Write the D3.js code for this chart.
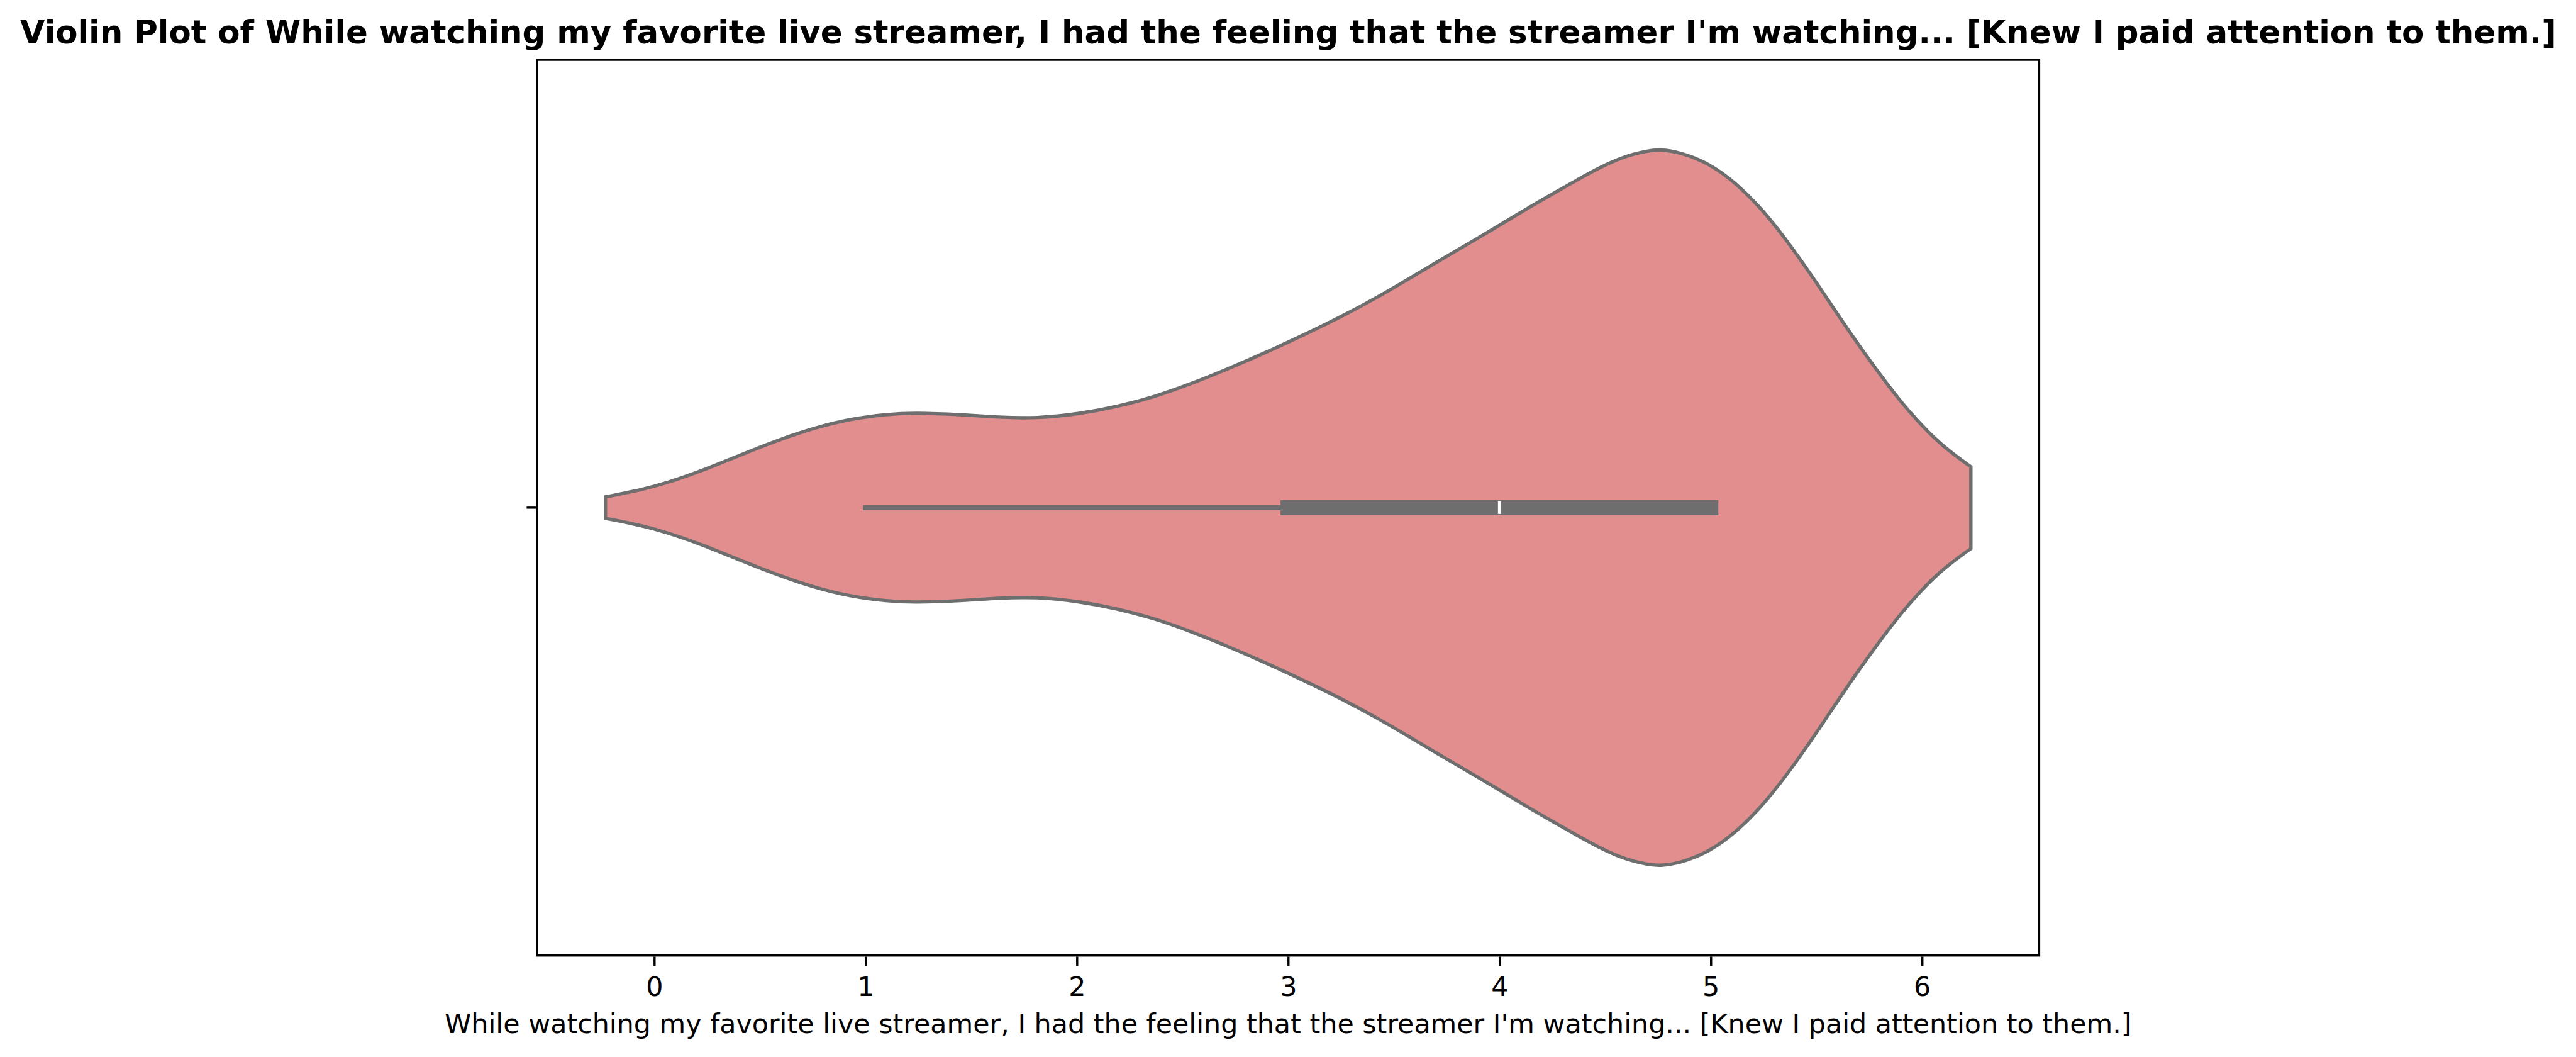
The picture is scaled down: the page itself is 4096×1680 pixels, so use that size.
<!DOCTYPE html>
<html>
<head>
<meta charset="utf-8">
<script src="https://cdn.jsdelivr.net/npm/d3@7"></script>
<style>
  html, body { margin: 0; padding: 0; background: #ffffff; }
  svg { display: block; }
</style>
</head>
<body>
<svg id="chart" width="4096" height="1680"></svg>
<script>
// ---------------- data ----------------
const titleText = "Violin Plot of While watching my favorite live streamer, I had the feeling that the streamer I'm watching... [Knew I paid attention to them.]";
const xLabelText = "While watching my favorite live streamer, I had the feeling that the streamer I'm watching... [Knew I paid attention to them.]";
const categories = [""];
const xTicks = [0, 1, 2, 3, 4, 5, 6];
// violin outline: value positions and relative half-widths (1 = widest point)
const densityX = [-0.231, -0.089, 0.051, 0.227, 0.403, 0.578, 0.753, 0.929, 1.105, 1.228, 1.456, 1.631, 1.807, 2.016, 2.192, 2.367, 2.543, 2.718, 2.894, 3.07, 3.245, 3.42, 3.597, 3.783, 3.900, 4.017, 4.134, 4.252, 4.368, 4.485, 4.603, 4.70, 4.76, 4.854, 4.99, 5.127, 5.263, 5.40, 5.536, 5.672, 5.809, 5.90, 6.00, 6.10, 6.231];
const densityW = [0.030, 0.046, 0.067, 0.103, 0.146, 0.187, 0.222, 0.248, 0.261, 0.265, 0.260, 0.252, 0.249, 0.262, 0.282, 0.309, 0.346, 0.388, 0.433, 0.481, 0.531, 0.586, 0.648, 0.713, 0.753, 0.794, 0.836, 0.876, 0.915, 0.953, 0.983, 0.996, 1.000, 0.992, 0.962, 0.903, 0.820, 0.714, 0.597, 0.476, 0.365, 0.295, 0.228, 0.170, 0.114];
// inner box: [lower whisker, Q1, median, Q3, upper whisker]
const boxStats = [1, 3, 4, 5, 5];

// ---------------- layout ----------------
const S = 4096 / 7975;               // scale from reference
const pt = 600 / 72 * S;             // one point in output pixels
const axLeft = 1663 * S, axRight = 6313 * S, axTop = 185 * S, axBottom = 2957 * S;
const xLim = [-0.5541, 6.5541];
const violinWidth = 0.8;
const lw = 1.25 * pt;
const fillColor = "rgb(226,142,142)";
const lineColor = "rgb(110,110,110)";
const font = "'DejaVu Sans', 'Liberation Sans', sans-serif";

const svg = d3.select("#chart");
svg.append("rect").attr("width", 4096).attr("height", 1680).attr("fill", "#ffffff");

const x = d3.scaleLinear().domain(xLim).range([axLeft, axRight]);
const y = d3.scaleLinear().domain([-0.5, 0.5]).range([axTop, axBottom]);

const g = svg.append("g");

// violin body
const pts = densityX.map((v, i) => ({ v, w: densityW[i] }));
const area = d3.area()
  .x(d => x(d.v))
  .y0(d => y(0 - d.w * violinWidth / 2))
  .y1(d => y(0 + d.w * violinWidth / 2))
  .curve(d3.curveBasis);

g.append("path")
  .datum(pts)
  .attr("d", area)
  .attr("fill", fillColor)
  .attr("stroke", lineColor)
  .attr("stroke-width", lw)
  .attr("stroke-linejoin", "miter");

// inner box
const cy = y(0);
g.append("line")
  .attr("x1", x(boxStats[0])).attr("x2", x(boxStats[4]))
  .attr("y1", cy).attr("y2", cy)
  .attr("stroke", lineColor).attr("stroke-width", lw * 1.5)
  .attr("stroke-linecap", "square");
g.append("line")
  .attr("x1", x(boxStats[1])).attr("x2", x(boxStats[3]))
  .attr("y1", cy).attr("y2", cy)
  .attr("stroke", lineColor).attr("stroke-width", lw * 4.5)
  .attr("stroke-linecap", "square");
const medH = lw * 4.5 / 1.2;
g.append("line")
  .attr("x1", x(boxStats[2])).attr("x2", x(boxStats[2]))
  .attr("y1", cy - medH / 2).attr("y2", cy + medH / 2)
  .attr("stroke", "#ffffff").attr("stroke-width", lw * 4.5 / 5);

// spines
const spineW = 0.8 * pt;
svg.append("rect")
  .attr("x", axLeft).attr("y", axTop)
  .attr("width", axRight - axLeft).attr("height", axBottom - axTop)
  .attr("fill", "none").attr("stroke", "#000000").attr("stroke-width", spineW)
  .attr("stroke-linejoin", "miter");

// x axis
const tickLen = 3.5 * pt;
const tickFont = 10 * pt;
const xAxis = d3.axisBottom(x).tickValues(xTicks).tickFormat(d3.format("d"))
  .tickSize(tickLen).tickPadding(3.5 * pt);
const xg = svg.append("g").attr("transform", `translate(0,${axBottom + spineW / 2})`).call(xAxis);
xg.select(".domain").remove();
xg.selectAll(".tick line").attr("stroke", "#000000").attr("stroke-width", spineW);
xg.selectAll(".tick text")
  .attr("font-family", font).attr("font-size", tickFont).attr("fill", "#000000")
  .attr("dy", null).attr("y", null)
  .attr("transform", `translate(0,${1583 - axBottom - spineW / 2})`);

// y axis (single categorical tick, empty label)
const yAxis = d3.axisLeft(d3.scaleBand().domain(categories).range([axTop, axBottom]))
  .tickSize(tickLen).tickPadding(3.5 * pt);
const yg = svg.append("g").attr("transform", `translate(${axLeft - spineW / 2},0)`).call(yAxis);
yg.select(".domain").remove();
yg.selectAll(".tick line").attr("stroke", "#000000").attr("stroke-width", spineW);
yg.selectAll(".tick text").attr("font-family", font).attr("font-size", tickFont);

// title
svg.append("text")
  .attr("x", (axLeft + axRight) / 2).attr("y", 135 * S)
  .attr("text-anchor", "middle")
  .attr("font-family", font).attr("font-weight", "bold")
  .attr("font-size", 12 * pt).attr("fill", "#000000")
  .text(titleText);

// x label
svg.append("text")
  .attr("x", (axLeft + axRight) / 2).attr("y", 3197 * S)
  .attr("text-anchor", "middle")
  .attr("font-family", font)
  .attr("font-size", 10 * pt).attr("fill", "#000000")
  .text(xLabelText);
</script>
</body>
</html>
